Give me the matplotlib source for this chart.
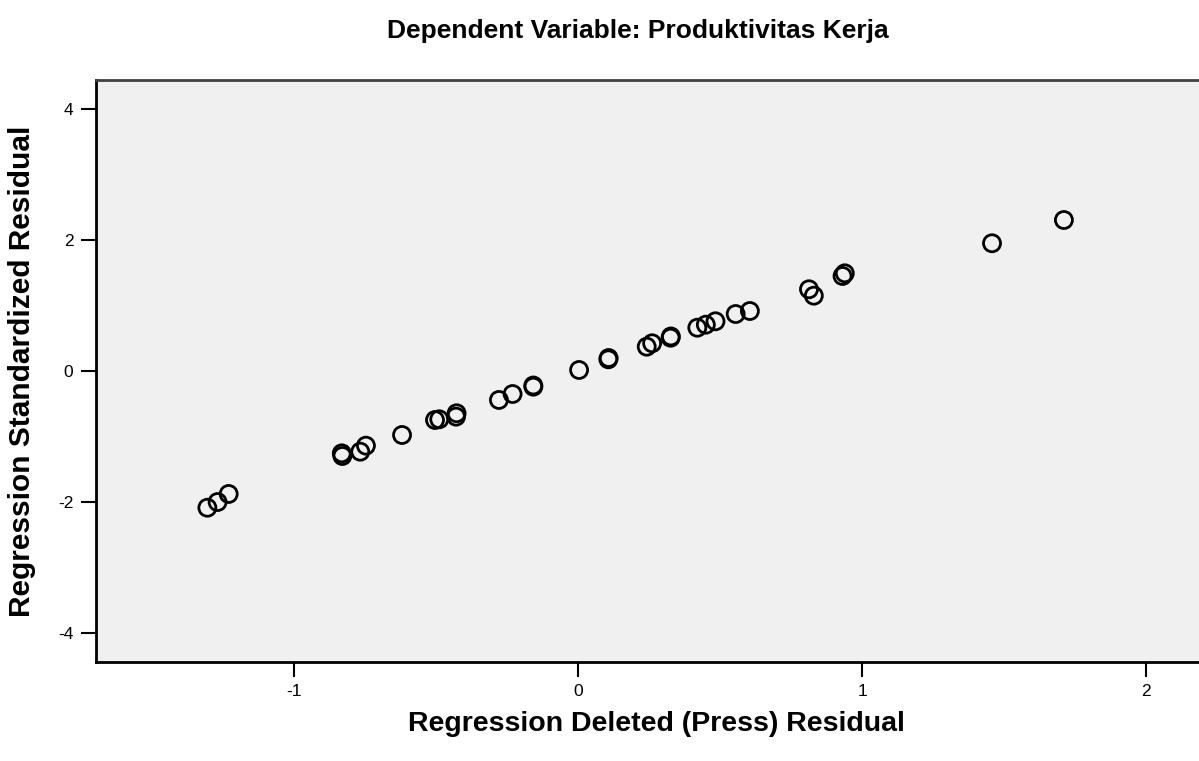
import matplotlib.pyplot as plt

# === Datos del grafico de residuos ===
press_resid = [-1.304, -1.268, -1.229, -0.829, -0.831, -0.766, -0.746, -0.619,
               -0.503, -0.488, -0.429, -0.427, -0.278, -0.230, -0.157, -0.157,
               0.004, 0.107, 0.108, 0.242, 0.261, 0.326, 0.327, 0.420, 0.450,
               0.484, 0.555, 0.605, 0.813, 0.830, 0.931, 0.939, 1.457, 1.710]
std_resid = [-2.091, -2.004, -1.881, -1.301, -1.260, -1.235, -1.143, -0.980,
             -0.751, -0.740, -0.700, -0.648, -0.445, -0.354, -0.242, -0.224,
             0.013, 0.176, 0.196, 0.369, 0.421, 0.506, 0.525, 0.659, 0.705,
             0.757, 0.868, 0.914, 1.246, 1.148, 1.449, 1.490, 1.949, 2.304]
x_ticks = [-1, 0, 1, 2]
y_ticks = [-4, -2, 0, 2, 4]

plt.rcParams['font.family'] = ['Liberation Sans', 'DejaVu Sans']
plt.rcParams['axes.unicode_minus'] = False

fig = plt.figure(figsize=(11.99, 7.61), dpi=100)
ax = fig.add_axes([0.0798, 0.1305, 0.936, 0.7644])
ax.set_facecolor('#F0F0F0')

ax.scatter(press_resid, std_resid, s=150, facecolors='none',
           edgecolors='black', linewidths=2, zorder=3)

ax.set_xlim(-1.697, 2.252)
ax.set_ylim(-4.443, 4.443)
ax.set_xticks(x_ticks)
ax.set_yticks(y_ticks)
ax.tick_params(direction='out', length=11, width=1.5, labelsize=12.5, pad=5)

for s in ['left', 'bottom']:
    ax.spines[s].set_linewidth(2)
ax.spines['top'].set_linewidth(2)
ax.spines['top'].set_color('#404040')
ax.spines['right'].set_visible(False)

ax.set_xlabel('Regression Deleted (Press) Residual', fontsize=20.5,
              fontweight='bold', labelpad=9)
ax.set_ylabel('Regression Standardized Residual', fontsize=21.5,
              fontweight='bold', labelpad=16)

fig.text(638 / 1199, 1 - 31 / 761, 'Dependent Variable: Produktivitas Kerja',
         ha='center', va='center', fontsize=19, fontweight='bold')

fig.savefig('out.png', dpi=100)
